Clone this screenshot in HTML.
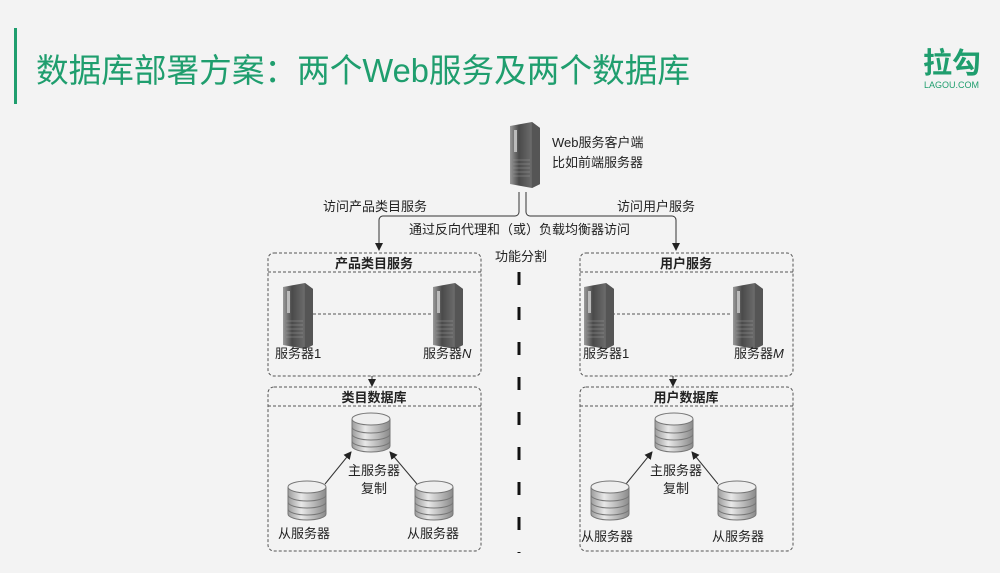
<!DOCTYPE html>
<html><head><meta charset="utf-8"><style>
html,body{margin:0;padding:0;background:#f3f3f3;}
svg{display:block;}
text{font-family:"Liberation Sans","Noto Sans CJK SC",sans-serif;fill:#222;}
</style></head><body>
<svg width="1000" height="573" viewBox="0 0 1000 573" xmlns="http://www.w3.org/2000/svg">
<defs>
<linearGradient id="sv" x1="0" x2="1" y1="0" y2="0">
<stop offset="0" stop-color="#9a9a9a"/><stop offset="0.3" stop-color="#4a4a4a"/><stop offset="0.7" stop-color="#6a6a6a"/><stop offset="1" stop-color="#2a2a2a"/>
</linearGradient>
<linearGradient id="db" x1="0" x2="1" y1="0" y2="0">
<stop offset="0" stop-color="#9c9c9c"/><stop offset="0.35" stop-color="#e8e8e8"/><stop offset="1" stop-color="#8a8a8a"/>
</linearGradient>
<g id="srv">
<polygon points="0,4 22,0 30,6 30,62 22,66 0,62" fill="url(#sv)"/>
<polygon points="22,0 30,6 30,62 22,66" fill="#555"/>
<rect x="4" y="8" width="3" height="22" fill="#bbb"/>
<g stroke="#999" stroke-width="0.6"><line x1="3" y1="38" x2="20" y2="38"/><line x1="3" y1="42" x2="20" y2="42"/><line x1="3" y1="46" x2="20" y2="46"/><line x1="3" y1="50" x2="20" y2="50"/><line x1="3" y1="54" x2="20" y2="54"/></g>
</g>
<g id="dbs">
<path d="M0,6 v27 a19,6 0 0 0 38,0 v-27" fill="url(#db)" stroke="#777" stroke-width="1"/>
<ellipse cx="19" cy="6" rx="19" ry="6" fill="#eee" stroke="#777"/>
<path d="M0,14 a19,6 0 0 0 38,0 M0,21 a19,6 0 0 0 38,0 M0,28 a19,6 0 0 0 38,0" fill="none" stroke="#777"/>
</g>
<marker id="ah" markerWidth="8" markerHeight="8" refX="7" refY="4" orient="auto" markerUnits="userSpaceOnUse"><path d="M0,0 L8,4 L0,8z" fill="#222"/></marker>
</defs>

<rect x="14" y="28" width="3" height="76" fill="#1f9e6e"/>
<text x="36" y="82" font-size="33" textLength="654" lengthAdjust="spacingAndGlyphs" style="fill:#1f9e6e">数据库部署方案：两个Web服务及两个数据库</text>
<text x="923" y="73" font-size="29" font-weight="bold" style="fill:#1f9e6e">拉勾</text>
<text x="924" y="88" font-size="9" style="fill:#1f9e6e">LAGOU.COM</text>

<use href="#srv" x="510" y="122"/>
<text x="552" y="147" font-size="13">Web服务客户端</text>
<text x="552" y="167" font-size="13">比如前端服务器</text>

<g fill="none" stroke="#333" stroke-width="1">
<path d="M519,192 v20 a4,4 0 0 1 -4,4 h-132 a4,4 0 0 0 -4,4 v30" marker-end="url(#ah)"/>
<path d="M526,192 v20 a4,4 0 0 0 4,4 h142 a4,4 0 0 1 4,4 v30" marker-end="url(#ah)"/>
<path d="M372,376 v10" marker-end="url(#ah)"/>
<path d="M673,376 v10" marker-end="url(#ah)"/>
<path d="M325,484 L351,452" marker-end="url(#ah)"/>
<path d="M417,484 L390,452" marker-end="url(#ah)"/>
<path d="M626,484 L652,452" marker-end="url(#ah)"/>
<path d="M718,484 L692,452" marker-end="url(#ah)"/>
</g>
<text x="323" y="211" font-size="13">访问产品类目服务</text>
<text x="617" y="211" font-size="13">访问用户服务</text>
<text x="409" y="234" font-size="13">通过反向代理和（或）负载均衡器访问</text>
<text x="495" y="261" font-size="13">功能分割</text>
<line x1="519" y1="272" x2="519" y2="553" stroke="#111" stroke-width="3" stroke-dasharray="13,22"/>

<g fill="none" stroke="#555" stroke-width="1" stroke-dasharray="3,2">
<rect x="268" y="253" width="213" height="123" rx="6"/>
<line x1="268" y1="272" x2="481" y2="272"/>
<line x1="313" y1="314" x2="432" y2="314"/>
<rect x="580" y="253" width="213" height="123" rx="6"/>
<line x1="580" y1="272" x2="793" y2="272"/>
<line x1="612" y1="314" x2="731" y2="314"/>
<rect x="268" y="387" width="213" height="164" rx="6"/>
<line x1="268" y1="406" x2="481" y2="406"/>
<rect x="580" y="387" width="213" height="164" rx="6"/>
<line x1="580" y1="406" x2="793" y2="406"/>
</g>
<text x="374" y="268" font-size="13" font-weight="bold" text-anchor="middle">产品类目服务</text>
<text x="686" y="268" font-size="13" font-weight="bold" text-anchor="middle">用户服务</text>
<text x="374" y="402" font-size="13" font-weight="bold" text-anchor="middle">类目数据库</text>
<text x="686" y="402" font-size="13" font-weight="bold" text-anchor="middle">用户数据库</text>

<use href="#srv" x="283" y="283"/><use href="#srv" x="433" y="283"/>
<use href="#srv" x="584" y="283"/><use href="#srv" x="733" y="283"/>
<text x="275" y="358" font-size="13">服务器1</text>
<text x="423" y="358" font-size="13">服务器<tspan font-style="italic">N</tspan></text>
<text x="583" y="358" font-size="13">服务器1</text>
<text x="734" y="358" font-size="13">服务器<tspan font-style="italic">M</tspan></text>

<use href="#dbs" x="352" y="413"/><use href="#dbs" x="288" y="481"/><use href="#dbs" x="415" y="481"/>
<use href="#dbs" x="655" y="413"/><use href="#dbs" x="591" y="481"/><use href="#dbs" x="718" y="481"/>
<text x="374" y="475" font-size="13" text-anchor="middle">主服务器</text>
<text x="374" y="493" font-size="13" text-anchor="middle">复制</text>
<text x="676" y="475" font-size="13" text-anchor="middle">主服务器</text>
<text x="676" y="493" font-size="13" text-anchor="middle">复制</text>
<text x="278" y="538" font-size="13">从服务器</text>
<text x="407" y="538" font-size="13">从服务器</text>
<text x="581" y="541" font-size="13">从服务器</text>
<text x="712" y="541" font-size="13">从服务器</text>
</svg>
</body></html>
